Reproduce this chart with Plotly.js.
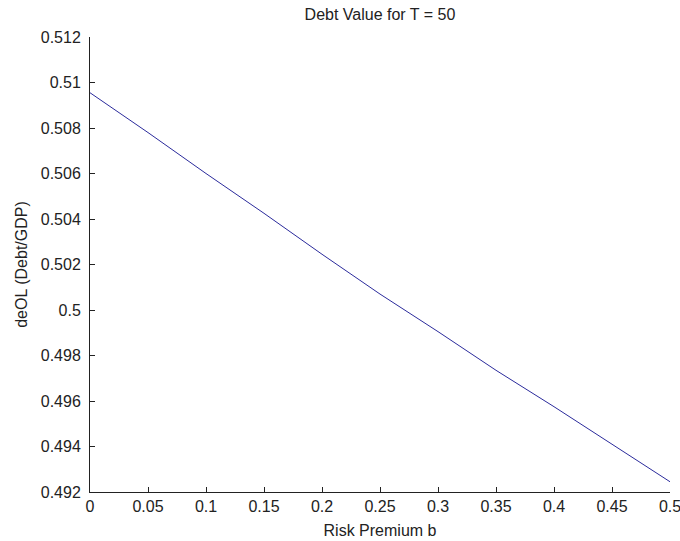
<!DOCTYPE html>
<html>
<head>
<meta charset="utf-8">
<script src="https://cdn.plot.ly/plotly-3.0.1.min.js"></script>
<style>html,body{margin:0;padding:0;background:#fff;}#chart{width:680px;height:541px;}</style>
</head>
<body>
<div id="chart"></div>
<script>
const riskPremium = [0, 0.05, 0.1, 0.15, 0.2, 0.25, 0.3, 0.35, 0.4, 0.45, 0.5];
const debtValue = [0.50955, 0.50780, 0.50600, 0.50425, 0.50245, 0.50070, 0.49905, 0.49735, 0.49575, 0.49410, 0.49245];
const xTickVals = [0, 0.05, 0.1, 0.15, 0.2, 0.25, 0.3, 0.35, 0.4, 0.45, 0.5];
const xTickText = ["0", "0.05", "0.1", "0.15", "0.2", "0.25", "0.3", "0.35", "0.4", "0.45", "0.5"];
const yTickVals = [0.492, 0.494, 0.496, 0.498, 0.5, 0.502, 0.504, 0.506, 0.508, 0.51, 0.512];
const yTickText = ["0.492", "0.494", "0.496", "0.498", "0.5", "0.502", "0.504", "0.506", "0.508", "0.51", "0.512"];

const font = {family: "Liberation Sans, Arial, sans-serif", size: 16, color: "#222"};

const trace = {
  x: riskPremium, y: debtValue, type: "scatter", mode: "lines",
  line: {color: "#2b2b9c", width: 1}, hoverinfo: "skip"
};

const layout = {
  width: 680, height: 541,
  margin: {l: 90, r: 10, t: 37, b: 49, pad: 0},
  paper_bgcolor: "#fff", plot_bgcolor: "#fff",
  showlegend: false,
  font: font,
  title: {text: "Debt Value for T = 50", font: {family: font.family, size: 16, color: "#222"},
          x: 0.5588, xref: "container", xanchor: "center", y: 0.974, yref: "container", yanchor: "middle"},
  xaxis: {
    range: [0, 0.5], tickmode: "array", tickvals: xTickVals, ticktext: xTickText,
    showgrid: false, zeroline: false, showline: true, linecolor: "#222", linewidth: 1,
    ticks: "inside", ticklen: 5, tickcolor: "#222", mirror: false,
    tickfont: font, ticklabeloverflow: "allow",
    title: {text: "Risk Premium b", font: font, standoff: 10}
  },
  yaxis: {
    range: [0.492, 0.512], tickmode: "array", tickvals: yTickVals, ticktext: yTickText,
    showgrid: false, zeroline: false, showline: true, linecolor: "#222", linewidth: 1,
    ticks: "inside", ticklen: 5, tickcolor: "#222", mirror: false,
    tickfont: font, ticklabelstandoff: 5, ticklabeloverflow: "allow",
    title: {text: "deOL (Debt/GDP)", font: font, standoff: 9}
  }
};

Plotly.newPlot("chart", [trace], layout, {displayModeBar: false, staticPlot: true});
</script>
</body>
</html>
